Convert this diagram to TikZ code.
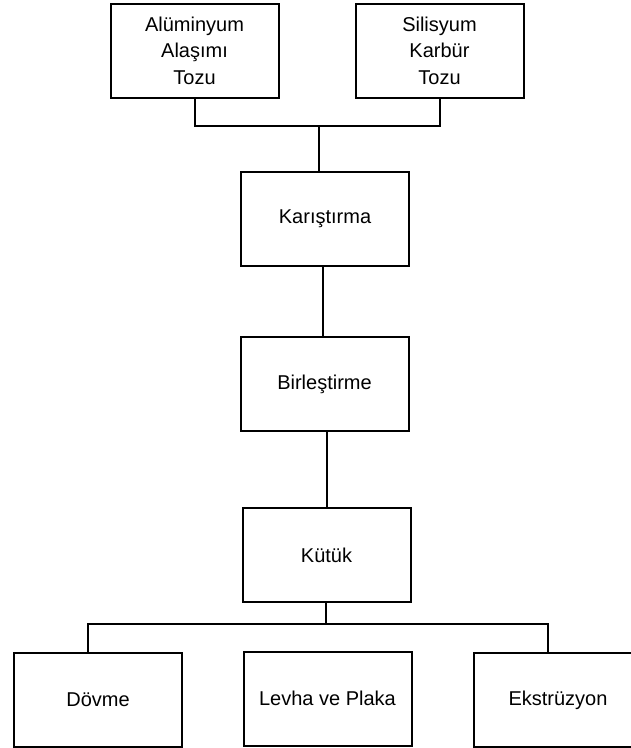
\documentclass[tikz,border=0pt]{standalone}
\usepackage{fontspec}
\setmainfont{Liberation Sans}
\begin{document}
\begin{tikzpicture}[x=1pt,y=-1pt,
  box/.style={draw, line width=2pt, minimum width=168pt, minimum height=94pt, inner sep=0pt, align=center,
    font=\fontsize{20}{26.5}\selectfont},
  conn/.style={draw, line width=2pt}]
\useasboundingbox (0,0) rectangle (631,748);
\clip (0,0) rectangle (631,748);
\node[box] (b1) at (194.5,50.5) {Alüminyum\\Alaşımı\\Tozu};
\node[box] (b2) at (439.5,50.5) {Silisyum\\Karbür\\Tozu};
\node[box] (b3) at (325,219) {Karıştırma};
\node[box] (b4) at (324.5,384) {Birleştirme};
\node[box] (b5) at (326.5,555) {Kütük};
\node[box] (b6) at (98,700) {Dövme};
\node[box] (b7) at (327.5,698.5) {Levha ve Plaka};
\node[box] (b8) at (558,700) {Ekstrüzyon};
\coordinate (j1) at (319,126);
\coordinate (j2) at (326,624);
\draw[conn] (b1.south) |- (j1) -| (b2.south);
\draw[conn] (j1) -- (j1 |- b3.north);
\draw[conn] ([xshift=-2pt]b3.south) -- ([xshift=-2pt]b3.south |- b4.north);
\draw[conn] (b4.south -| b5.north) -- (b5.north);
\draw[conn] (b5.south -| j2) -- (j2);
\draw[conn] ([xshift=-10pt]b6.north) |- (j2) -| ([xshift=-10pt]b8.north);
\end{tikzpicture}
\end{document}
